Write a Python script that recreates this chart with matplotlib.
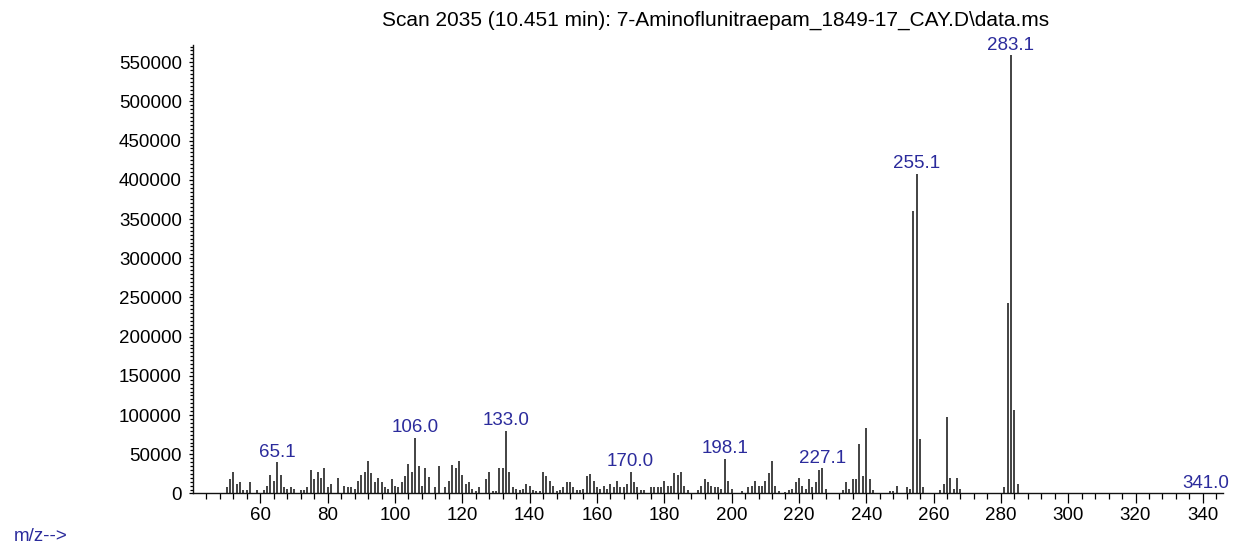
import matplotlib
matplotlib.use("Agg")
import matplotlib.pyplot as plt
from matplotlib.ticker import MultipleLocator, FixedLocator, FuncFormatter

plt.rcParams['font.family'] = ['Liberation Sans', 'DejaVu Sans']

title = "Scan 2035 (10.451 min): 7-Aminoflunitraepam_1849-17_CAY.D\\data.ms"

# m/z values and abundances
mz = [50, 51, 52, 53, 54, 55, 56, 57, 59, 61, 62, 63, 64, 65, 66, 67, 68, 69, 70,
      72, 73, 74, 75, 76, 77, 78, 79, 80, 81, 83, 85, 86, 87, 88, 89, 90, 91, 92,
      93, 94, 95, 96, 97, 98, 99, 100, 101, 102, 103, 104, 105, 106, 107, 108,
      109, 110, 112, 113, 115, 116, 117, 118, 119, 120, 121, 122, 123, 124, 125,
      127, 128, 129, 130, 131, 132, 133, 134, 135, 136, 137, 138, 139, 140, 141,
      142, 143, 144, 145, 146, 147, 148, 149, 150, 151, 152, 153, 154, 155, 156,
      157, 158, 159, 160, 161, 162, 163, 164, 165, 166, 167, 168, 169, 170, 171,
      172, 173, 174, 176, 177, 178, 179, 180, 181, 182, 183, 184, 185, 186, 187,
      190, 191, 192, 193, 194, 195, 196, 197, 198, 199, 200, 203, 205, 206, 207,
      208, 209, 210, 211, 212, 213, 214, 216, 217, 218, 219, 220, 221, 222, 223,
      224, 225, 226, 227, 228, 233, 234, 235, 236, 237, 238, 239, 240, 241, 242,
      247, 248, 249, 252, 253, 254, 255, 256, 257, 262, 263, 264, 265, 266, 267,
      268, 281, 282, 283, 284, 285, 341]
abundance = [8000, 18000, 28000, 12000, 14000, 5000, 4500, 14000, 4500, 4500, 10000,
             24000, 16000, 40000, 24000, 8000, 6000, 8000, 6000,
             4500, 4500, 8000, 30000, 18000, 28000, 20000, 32000, 8000, 12000, 20000,
             10000, 8000, 8000, 6000, 16000, 24000, 28000, 42000,
             26000, 14000, 20000, 14000, 8000, 6000, 18000, 10000, 8000, 15000, 22000,
             37000, 27000, 71000, 35000, 10000,
             32000, 21000, 8000, 35000, 8000, 16000, 36000, 33000, 41000, 24000, 12000,
             14000, 6000, 3600, 8000,
             18000, 28000, 3600, 3600, 32000, 32000, 80000, 28000, 8000, 6000, 4500,
             6000, 12000, 10000, 4500,
             3600, 3600, 28000, 22000, 16000, 10000, 3600, 4500, 8000, 14000, 14000,
             8000, 4500, 4500, 6000,
             22000, 25000, 16000, 8000, 6000, 10000, 6000, 12000, 8000, 16000, 8000,
             8000, 12000, 28000, 14000,
             8000, 4500, 4500, 8000, 8000, 8000, 8000, 16000, 10000, 10000, 26000,
             24000, 28000, 10000, 4500,
             4500, 10000, 18000, 14000, 10000, 8000, 8000, 6000, 44000, 16000, 6000,
             3600, 8000, 10000, 16000,
             10000, 10000, 16000, 26000, 41000, 10000, 3600, 2300, 4500, 6000, 14000,
             20000, 10000, 6000, 18000,
             8000, 14000, 30000, 32000, 6000, 4500, 14000, 6000, 18000, 18000, 63000,
             22000, 83000, 18000, 4500,
             3600, 3600, 10000, 8000, 6000, 360000, 408000, 69000, 8000, 4500, 12000,
             98000, 20000, 6000, 20000,
             6000, 8000, 243000, 559000, 107000, 12000, 400]

# labelled peaks: text and the m/z of the bar it sits on
peak_labels = ["65.1", "106.0", "133.0", "170.0", "198.1", "227.1", "255.1", "283.1", "341.0"]
peak_mz = [65, 106, 133, 170, 198, 227, 255, 283, 341]

x_ticks = list(range(60, 341, 20))

label_blue = '#2b2b9c'

fig = plt.figure(figsize=(12.38, 5.46), dpi=100)
ax = fig.add_axes([0.1559, 0.0962, 0.832, 0.8214])

ax.vlines(mz, 0, abundance, color='#222222', linewidth=1.2)

for txt, m in zip(peak_labels, peak_mz):
    h = abundance[mz.index(m)]
    ax.annotate(txt, xy=(m, h), xytext=(0, 4), textcoords='offset points',
                ha='center', va='baseline', fontsize=13.5, color=label_blue)

ax.set_xlim(40, 346)
ax.set_ylim(0, 572000)

ax.xaxis.set_major_locator(FixedLocator(x_ticks))
ax.xaxis.set_minor_locator(FixedLocator([v for v in range(44, 346, 4) if v not in x_ticks]))
ax.yaxis.set_major_locator(MultipleLocator(50000))
ax.yaxis.set_minor_locator(MultipleLocator(5000))
ax.yaxis.set_major_formatter(FuncFormatter(lambda v, p: f"{int(v)}"))

ax.tick_params(axis='x', which='major', direction='out', length=7, width=0.9, pad=3, labelsize=13.5)
ax.tick_params(axis='x', which='minor', direction='out', length=4, width=0.9)
ax.tick_params(axis='y', which='major', direction='out', length=3, width=0.9, pad=5, labelsize=13.5)
ax.tick_params(axis='y', which='minor', direction='out', length=2, width=0.9)

for s in ['top', 'right']:
    ax.spines[s].set_visible(False)
for s in ['left', 'bottom']:
    ax.spines[s].set_linewidth(1.0)
    ax.spines[s].set_color('#111111')

fig.text(0.578, 0.963, title, ha='center', va='center', fontsize=15)
fig.text(0.011, 0.0165, "m/z-->", ha='left', va='center', fontsize=13.5, color=label_blue)

fig.savefig('out.png', dpi=100)
